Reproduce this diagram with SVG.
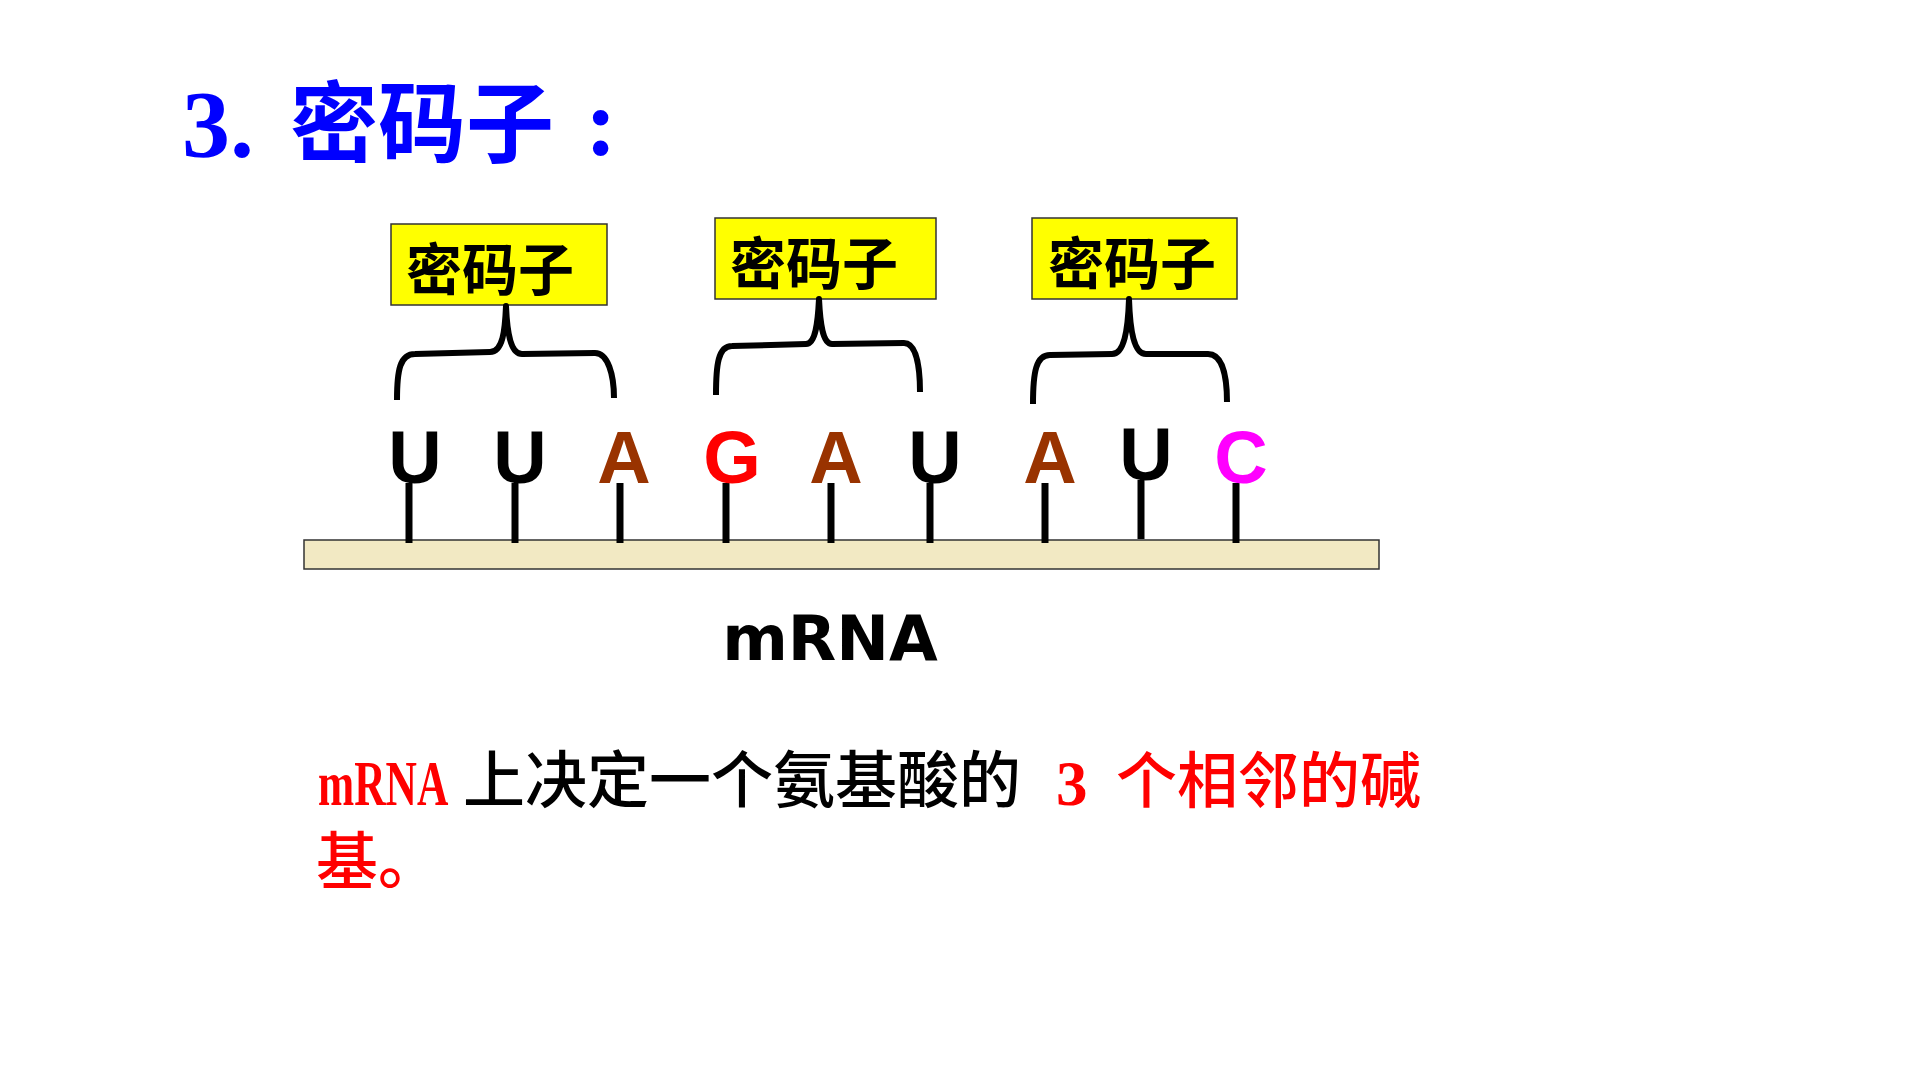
<svg xmlns="http://www.w3.org/2000/svg" width="1920" height="1080" viewBox="0 0 1920 1080">
  <style>
    .cjk { font-family: "Noto Sans CJK SC", "Noto Sans", sans-serif; }
    .ser { font-family: "Liberation Serif", "Noto Sans CJK SC", serif; }
    .box { fill: #FFFF00; stroke: #333333; stroke-width: 1.5; }
    .boxtxt { font-family: "Noto Sans CJK SC", sans-serif; font-weight: bold; font-size: 56px; fill: #000000; }
    .brace { fill: none; stroke: #000000; stroke-width: 6; stroke-linejoin: round; }
    .stem { stroke: #000000; stroke-width: 7; }
    .base { font-family: "Liberation Sans", Arial, sans-serif; font-weight: bold; font-size: 74px; text-anchor: middle; }
    .U { fill: #000000; }
    .A { fill: #993300; }
    .G { fill: #FF0000; }
    .C { fill: #FF00FF; }
    .red { fill: #FF0000; }
  </style>
  <rect width="1920" height="1080" fill="#FFFFFF"/>

  <g id="title" fill="#0000FF">
    <text class="ser" x="182" y="157" font-size="96" font-weight="bold">3.</text>
    <text class="cjk" x="290" y="155" font-size="88" font-weight="bold">密码子</text>
    <text class="ser" x="585" y="155" font-size="96" font-weight="bold">:</text>
  </g>

  <g id="codon1">
    <rect class="box" x="391" y="224" width="216" height="81"/>
    <text class="boxtxt" x="406" y="290">密码子</text>
  </g>
  <g id="codon2">
    <rect class="box" x="715" y="218" width="221" height="81"/>
    <text class="boxtxt" x="730" y="284">密码子</text>
  </g>
  <g id="codon3">
    <rect class="box" x="1032" y="218" width="205" height="81"/>
    <text class="boxtxt" x="1048" y="284">密码子</text>
  </g>

  <g id="connectors">
    <path class="brace" d="M397,400 C397,370 400,354 415,354 L490,352 C503,352 505,330 506,306 C507,330 510,354 522,354 L595,353 C608,353 614,375 614,398"/>
    <path class="brace" d="M716,395 C716,365 718,346 732,346 L806,344 C816,344 818,320 819,299 C820,320 822,344 832,344 L904,343 C916,343 920,365 920,392"/>
    <path class="brace" d="M1033,404 C1033,372 1036,355 1050,355 L1112,354 C1124,354 1128,330 1129,299 C1130,330 1134,354 1146,354 L1208,354 C1222,354 1227,375 1227,402"/>
  </g>

  <g id="mrna">
    <rect x="304" y="540" width="1075" height="29" fill="#F2E9C3" stroke="#333333" stroke-width="1.5"/>
  </g>

  <g id="stems">
    <line class="stem" x1="409" y1="483" x2="409" y2="543"/>
    <line class="stem" x1="515" y1="483" x2="515" y2="543"/>
    <line class="stem" x1="620" y1="483" x2="620" y2="543"/>
    <line class="stem" x1="726" y1="483" x2="726" y2="543"/>
    <line class="stem" x1="831" y1="483" x2="831" y2="543"/>
    <line class="stem" x1="930" y1="483" x2="930" y2="543"/>
    <line class="stem" x1="1045" y1="483" x2="1045" y2="543"/>
    <line class="stem" x1="1141" y1="480" x2="1141" y2="539"/>
    <line class="stem" x1="1236" y1="483" x2="1236" y2="543"/>
  </g>

  <g id="bases">
    <text class="base U" x="415" y="483">U</text>
    <text class="base U" x="520" y="483">U</text>
    <text class="base A" x="624" y="483">A</text>
    <text class="base G" x="732" y="483">G</text>
    <text class="base A" x="836" y="483">A</text>
    <text class="base U" x="935" y="483">U</text>
    <text class="base A" x="1050" y="483">A</text>
    <text class="base U" x="1146" y="480">U</text>
    <text class="base C" x="1241" y="483">C</text>
  </g>

  <g id="mrna-label">
    <text x="830" y="660" font-family="DejaVu Sans, sans-serif" font-weight="bold" font-size="63" text-anchor="middle" fill="#000000">mRNA</text>
  </g>

  <g id="definition">
    <text class="ser red" transform="translate(318,805) scale(0.69,1)" x="0" y="0" font-size="63" font-weight="bold">mRNA</text>
    <text class="cjk" x="463" y="803" font-size="62" font-weight="500" fill="#000000">上决定一个氨基酸的</text>
    <text class="ser red" x="1056" y="805" font-size="63" font-weight="bold">3</text>
    <text class="cjk red" x="1116" y="803" font-size="61" font-weight="500">个相邻的碱</text>
    <text class="cjk red" x="316" y="884" font-size="62" font-weight="500">基。</text>
  </g>
</svg>
